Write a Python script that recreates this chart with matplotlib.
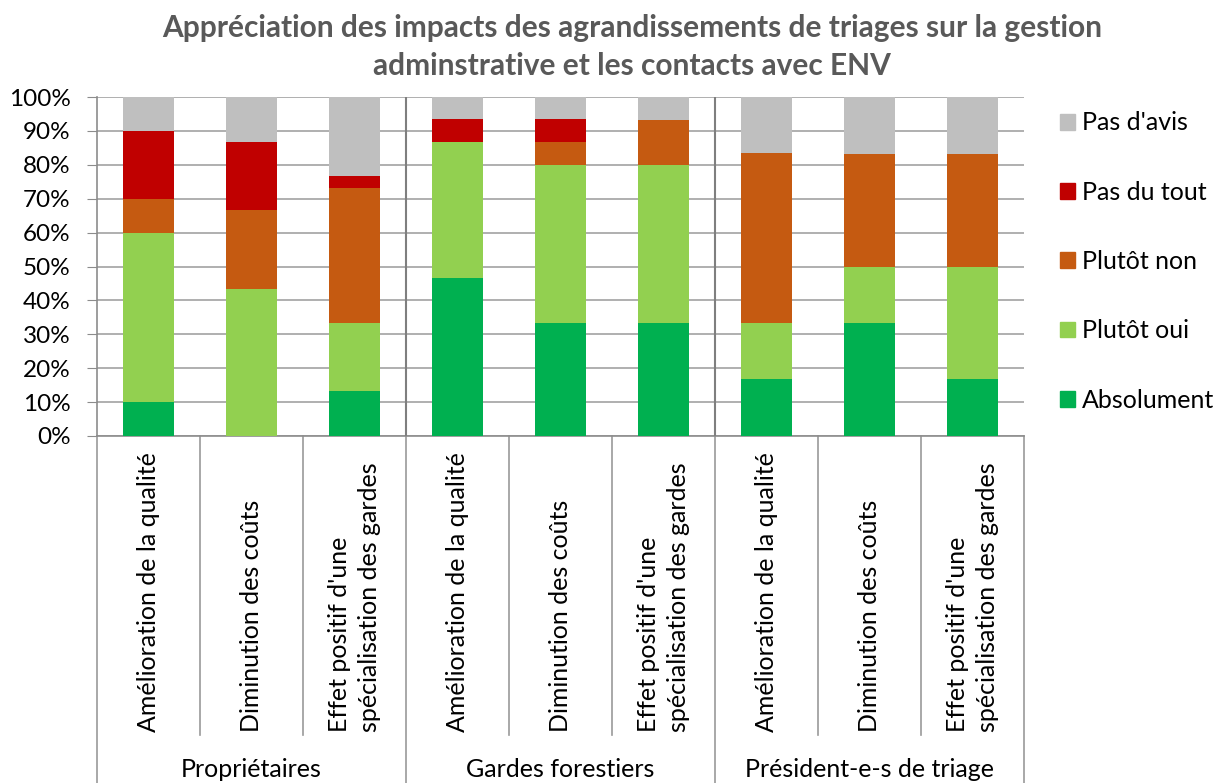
import matplotlib
matplotlib.use("Agg")
import matplotlib.pyplot as plt
from matplotlib.patches import Patch

plt.rcParams['font.family'] = ['Lato', 'DejaVu Sans']

# données (% des réponses)
groups = ["Propriétaires", "Gardes forestiers", "Président-e-s de triage"]
items = ["Amélioration de la qualité", "Diminution des coûts",
         "Effet positif d'une\nspécialisation des gardes"]
series = ["Absolument", "Plutôt oui", "Plutôt non", "Pas du tout", "Pas d'avis"]
colors = ["#00B050", "#92D050", "#C55A11", "#C00000", "#BFBFBF"]

absolument = [10.0, 0.0, 13.3, 46.7, 33.3, 33.3, 16.7, 33.3, 16.7]
plutot_oui = [50.0, 43.3, 20.0, 40.0, 46.7, 46.7, 16.7, 16.7, 33.3]
plutot_non = [10.0, 23.3, 40.0, 0.0, 6.7, 13.3, 50.0, 33.3, 33.3]
pas_du_tout = [20.0, 20.0, 3.3, 6.7, 6.7, 0.0, 0.0, 0.0, 0.0]
pas_d_avis = [10.0, 13.3, 23.3, 6.7, 6.7, 6.7, 16.7, 16.7, 16.7]

values = [absolument, plutot_oui, plutot_non, pas_du_tout, pas_d_avis]

W, H = 1216, 783
FS = 18
fig = plt.figure(figsize=(W / 100, H / 100), dpi=100)
ax = fig.add_axes([97 / W, 1 - 436 / H, 927 / W, 339 / H])

n = len(absolument)
x = list(range(n))
bottom = [0.0] * n
for vals, col, name in zip(values, colors, series):
    ax.bar(x, vals, width=0.5, bottom=bottom, color=col, label=name, zorder=3)
    bottom = [b + v for b, v in zip(bottom, vals)]

ax.set_xlim(-0.5, n - 0.5)
ax.set_ylim(0, 100)
ax.set_yticks(range(0, 101, 10))
ax.set_yticklabels([f"{v}%" for v in range(0, 101, 10)], fontsize=FS - 0.5)
ax.tick_params(axis='y', length=7, color="#8c8c8c", pad=12)
ax.set_xticks([])
ax.grid(axis='y', color="#9a9a9a", lw=1.1, zorder=0)
for s in ["top", "right"]:
    ax.spines[s].set_visible(False)
for s in ["left", "bottom"]:
    ax.spines[s].set_color("#8c8c8c")
    ax.spines[s].set_linewidth(1.2)

# séparateurs de groupes dans la zone de tracé
for g in range(1, len(groups)):
    ax.axvline(g * 3 - 0.5, color="#7f7f7f", lw=1.5, zorder=4)

# axe des catégories à deux niveaux
tr = ax.get_xaxis_transform()
y_low = -(735 - 436) / 339
y_end = -(H - 436) / 339
for k in range(n + 1):
    xs = k - 0.5
    y2 = y_end if k % 3 == 0 else y_low
    ax.plot([xs, xs], [0, y2], color="#9a9a9a", lw=1.2, transform=tr, clip_on=False)

for i in range(n):
    ax.text(i, -(732 - 436) / 339, items[i % 3], rotation=90, ha='center', va='bottom',
            multialignment='left', fontsize=FS, transform=tr, linespacing=1.4)

for g, name in enumerate(groups):
    ax.text(g * 3 + 1, -(770 - 436) / 339, name, ha='center', va='center',
            fontsize=FS, transform=tr)

fig.text(632 / W, 1 - 47 / H,
         "Appréciation des impacts des agrandissements de triages sur la gestion\nadminstrative et les contacts avec ENV",
         ha='center', va='center', fontsize=21.5, fontweight='bold', color="#595959",
         linespacing=1.4)

handles = [Patch(color=c, label=s) for c, s in zip(colors, series)][::-1]
fig.legend(handles=handles, loc='upper left', bbox_to_anchor=(1037 / W, 1 - 89 / H),
           frameon=False, fontsize=FS, handlelength=0.6, handleheight=0.6,
           handletextpad=0.3, labelspacing=1.85)

fig.savefig("out.png", dpi=100)
